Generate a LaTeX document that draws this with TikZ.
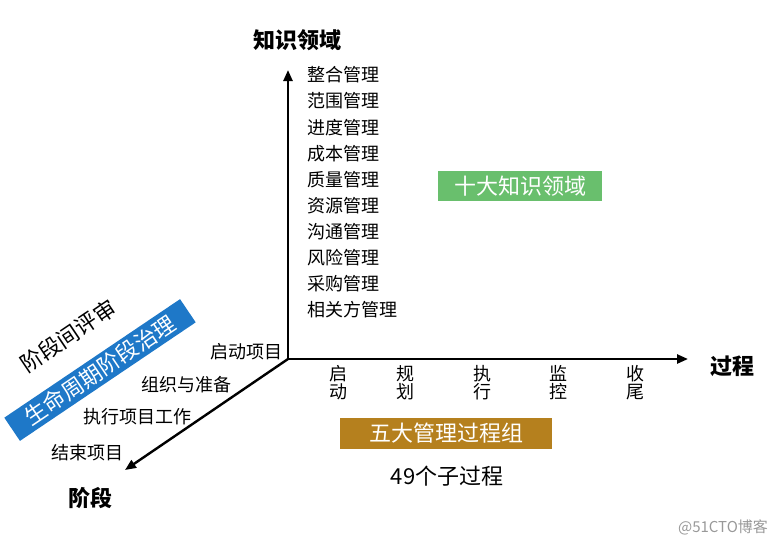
\documentclass[tikz,border=0pt]{standalone}
\usepackage{fontspec}
\setmainfont{Noto Sans CJK SC}
\usetikzlibrary{arrows.meta, positioning}
\definecolor{areagreen}{HTML}{69BF6D}
\definecolor{groupgold}{HTML}{B5801E}
\definecolor{phaseblue}{HTML}{1E78C8}

\begin{document}
\begin{tikzpicture}[
  x=1pt, y=-1pt,
  axis/.style={-{Triangle[length=11pt,width=9pt]}, line width=2.4pt},
  ttl/.style={font=\fontsize{22}{24}\selectfont\bfseries, inner sep=0pt},
  item/.style={font=\fontsize{18}{20}\selectfont, anchor=west, inner sep=0pt},
  tick/.style={font=\fontsize{18}{18}\selectfont, align=center, inner sep=0pt},
  plain/.style={font=\fontsize{18}{20}\selectfont, inner sep=0pt},
  banner/.style={font=\fontsize{22}{24}\selectfont, text=white, inner sep=0pt},
]
  \useasboundingbox (0,0) rectangle (784,547);

  % axes
  \coordinate (O) at (288,359);
  \coordinate (ktip) at (288,70);
  \coordinate (ptip) at (688,359);
  \coordinate (stip) at (125,470);
  \draw[axis] (O) -- (ktip);
  \draw[axis] (O) -- (ptip);
  \draw[axis] (O) -- (stip);

  % axis titles
  \node[ttl] (know)  at (297,40)  {知识领域};
  \node[ttl] (proc)  at (732,366) {过程};
  \node[ttl] (phase) at (90,498)  {阶段};

  % knowledge areas
  \foreach \t [count=\i] in {整合管理,范围管理,进度管理,成本管理,质量管理,
                             资源管理,沟通管理,风险管理,采购管理,相关方管理}
    \node[item] (ka\i) at (307,{75+26.1*(\i-1)}) {\t};
  \node[banner, fill=areagreen, minimum width=164pt, minimum height=30pt]
    (ten) at (520,186) {十大知识领域};

  % process groups
  \node[tick] (pg1) at (338,383) {启\\动};
  \node[tick] (pg2) at (405,383) {规\\划};
  \node[tick] (pg3) at (482,383) {执\\行};
  \node[tick] (pg4) at (558,383) {监\\控};
  \node[tick] (pg5) at (635,383) {收\\尾};
  \node[banner, fill=groupgold, minimum width=212pt, minimum height=31pt]
    (five) at (446,433.5) {五大管理过程组};
  \node[banner, text=black] (sub) at (447,476) {49个子过程};

  % phases
  \node[plain, anchor=east] (ph1) at (283,352) {启动项目};
  \node[plain] (ph2) at (186,385) {组织与准备};
  \node[plain] (ph3) at (137,417) {执行项目工作};
  \node[plain] (ph4) at (87,453)  {结束项目};
  \node[banner, fill=phaseblue, rotate=34, minimum width=212pt, minimum height=28pt]
    (gov) at (100,370) {生命周期阶段治理};
  \node[banner, text=black, rotate=34] (gate) at (68,336) {阶段间评审};

  \node[font=\fontsize{15}{17}\selectfont, text=gray!80, inner sep=0pt] (mark) at (723,527) {@51CTO博客};
\end{tikzpicture}
\end{document}
